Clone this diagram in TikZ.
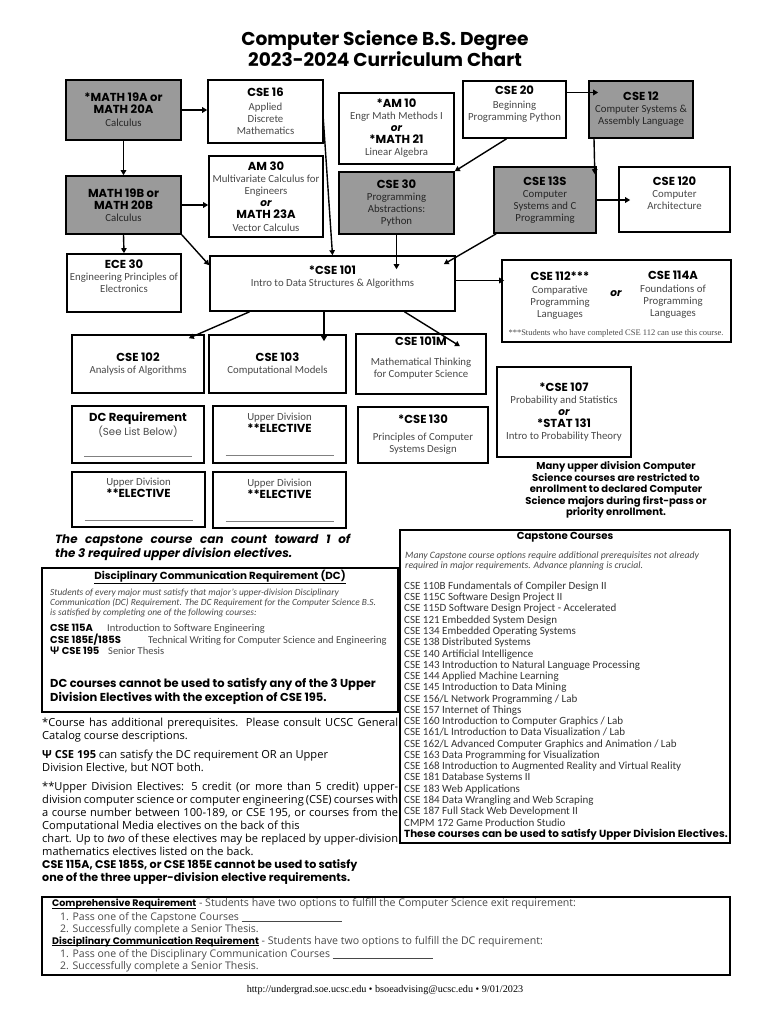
\documentclass[tikz,border=0pt]{standalone}
\usepackage{calc}
\usepackage{fontspec}
\setmainfont{Carlito}
\newfontfamily\hd{Poppins}
\newfontfamily\os{Open Sans}
\newfontfamily\srf{Liberation Serif}
\usetikzlibrary{arrows.meta}
\definecolor{boxgray}{RGB}{154,154,154}
\definecolor{txtgray}{RGB}{72,72,72}
\newcommand\fs[2]{\fontsize{#1}{#2}\selectfont}
\newcommand\ct[1]{{\hd\bfseries\color{black}\fs{11.6}{13}#1}}
\newcommand\ctb[1]{{\hd\bfseries\color{black}\fs{10}{12}#1}}
\newcommand\orr{{\hd\bfseries\itshape\color{black}\fs{10.5}{11}or}}
\newcommand\blank{\textcolor{gray}{\rule{108pt}{0.6pt}}}
\newcommand\jl[2][356pt]{\makebox[#1][s]{#2}}
\newcommand\ul[1]{\rlap{\rule[-1.3pt]{\widthof{#1}}{0.5pt}}#1}

\tikzset{
  intext/.style={align=center, inner sep=0pt, text=txtgray, font=\fs{10.8}{12}},
  box/.style={intext, draw, line width=1.6pt},
  grbox/.style={box, fill=boxgray, text=black!85},
  bigbox/.style={draw, line width=2.2pt, inner sep=0pt},
  ln/.style={anchor=mid west, inner sep=0pt},
  arr/.style={-{Triangle[length=5pt,width=5.5pt]}, line width=1.4pt},
}

\begin{document}
\begin{tikzpicture}[x=1pt, y=-1pt]
\useasboundingbox (0,0) rectangle (770,1024);

% title
\node[font=\hd\bfseries\fs{18.6}{18}, align=center] (title) at (385,49) {Computer Science B.S. Degree\\2023-2024 Curriculum Chart};

% lower division
\node[grbox, minimum width=115pt, minimum height=60pt] (m19a) at (123.5,110) {\ct{*MATH 19A or}\\\ct{MATH 20A}\\[1pt]Calculus};
\node[box, minimum width=115pt, minimum height=63pt] (cse16) at (265.5,111.5) {\ct{CSE 16}\\[2pt]Applied\\Discrete\\Mathematics};
\node[box, minimum width=115pt, minimum height=71pt] (am10) at (396.5,128.5) {\ct{*AM 10}\\Engr Math Methods I\\\orr\\\ct{*MATH 21}\\Linear Algebra};
\node[box, minimum width=103pt, minimum height=57pt] (cse20) at (514.5,109.5) {\ct{CSE 20}\\[2pt]Beginning\\Programming Python\\[1pt]~};
\node[grbox, minimum width=104pt, minimum height=57pt] (cse12) at (641,109.5) {\ct{CSE 12}\\Computer Systems \&\\Assembly Language};
\node[grbox, minimum width=115pt, minimum height=58pt] (m19b) at (123.5,205) {\ct{MATH 19B or}\\\ct{MATH 20B}\\Calculus};
\node[box, minimum width=114pt, minimum height=81pt] (am30) at (266,196.5) {\ct{AM 30}\\Multivariate Calculus for\\Engineers\\\orr\\\ct{MATH 23A}\\[1pt]Vector Calculus};
\node[grbox, minimum width=115pt, minimum height=62pt] (cse30) at (396.5,203) {\ct{CSE 30}\\Programming\\Abstractions:\\Python};
\node[grbox, minimum width=102pt, minimum height=66pt] (cse13s) at (545,200) {\ct{CSE 13S}\\Computer\\Systems and C\\Programming};
\node[box, minimum width=111pt, minimum height=65pt] (cse120) at (674.5,199.5) {\ct{CSE 120}\\Computer\\Architecture\\[1pt]~};
\node[box, minimum width=114pt, minimum height=58pt] (ece30) at (124,283) {\ct{ECE 30}\\Engineering Principles of\\Electronics\\[1pt]~};
\node[box, minimum width=245pt, minimum height=55pt] (cse101) at (332.5,283.5) {\ct{*CSE 101}\\Intro to Data Structures \& Algorithms\\[3pt]~};

% cse 112 or 114a
\node[box, minimum width=229pt, minimum height=82pt] (cse112box) at (616.5,301) {};
\node[intext] (cse112) at (560,295.5) {\ct{CSE 112***}\\[1pt]Comparative\\Programming\\Languages};
\node[intext] (or112) at (616,294) {\orr};
\node[intext] (cse114a) at (673,295) {\ct{CSE 114A}\\[1pt]Foundations of\\Programming\\Languages};
\node[intext, font=\srf\fs{8.5}{9}] (fn112) at (616,333) {***Students who have completed CSE 112 can use this course.};

% upper division
\node[box, minimum width=132pt, minimum height=58pt] (cse102) at (138,364) {\ct{CSE 102}\\Analysis of Algorithms};
\node[box, minimum width=137pt, minimum height=58pt] (cse103) at (277.5,364) {\ct{CSE 103}\\Computational Models};
\node[box, minimum width=130pt, minimum height=60pt,
  label={[anchor=center, yshift=-8pt, inner sep=0pt]north:\ct{CSE 101M}},
  label={[intext, anchor=center, yshift=-35pt]north:Mathematical Thinking\\for Computer Science}] (cse101m) at (421,364) {};
\node[box, minimum width=134pt, minimum height=90pt] (cse107) at (564,412) {\ct{*CSE 107}\\Probability and Statistics\\\orr\\\ct{*STAT 131}\\Intro to Probability Theory};
\node[box, minimum width=132pt, minimum height=57pt] (dcreq) at (138,434.5) {\ct{DC Requirement}\\{\hd\fs{10.2}{11}(See List Below)}\\[9pt]\blank};
\node[box, minimum width=133pt, minimum height=57pt] (elec1) at (279.5,434.5) {Upper Division\\\ct{**ELECTIVE}\\[11pt]\blank};
\node[box, minimum width=130pt, minimum height=56pt] (cse130) at (423,435) {\ct{*CSE 130}\\[5pt]Principles of Computer\\Systems Design};
\node[box, minimum width=133pt, minimum height=55pt] (elec2) at (138.5,499.5) {Upper Division\\\ct{**ELECTIVE}\\[11pt]\blank};
\node[box, minimum width=133pt, minimum height=56pt] (elec3) at (279.5,500) {Upper Division\\\ct{**ELECTIVE}\\[11pt]\blank};
\node[font=\hd\bfseries\fs{10}{11.5}, align=center] (restrict) at (616,490) {Many upper division Computer\\Science courses are restricted to\\enrollment to declared Computer\\Science majors during first-pass or\\priority enrollment.};

% prerequisites
\draw[arr] (m19a.east) -- (m19a.east -| cse16.west);
\draw[arr] (m19a) -- (m19b);
\draw[arr] (m19b.east) -- (m19b.east -| am30.west);
\draw[arr] (m19b.south) -- (ece30.north);
\draw[arr] (m19b.south east) -- ([yshift=-10pt]cse101.north west);
\draw[arr] ([xshift=-1pt]cse16.east) -- (cse101.north);
\draw[arr] (cse30.south) -- ([yshift=-14pt]cse101.north -| cse30.south);
\draw[arr] ([xshift=3pt]cse13s.south west) -- ([xshift=-12pt,yshift=-9pt]cse101.north east);
\draw[arr] ([yshift=17pt]cse20.east) -- ([xshift=10pt,yshift=17pt]cse12.west);
\draw[arr] ([xshift=-8pt]cse20.south) -- (cse30.north east);
\draw[arr] ([xshift=-47pt]cse12.south) -- ([xshift=-2pt,yshift=-8pt]cse13s.north east);
\draw[arr] (cse13s.east) -- ([xshift=12pt]cse13s.east -| cse120.west);
\draw[arr] ([yshift=3pt]cse101.east) -- ([xshift=3pt,yshift=3pt]cse101.east -| cse112box.west);
\draw[arr] ([xshift=-83pt]cse101.south) -- ([xshift=-16pt,yshift=-4pt]cse102.north east);
\draw[arr] ([xshift=-8.5pt]cse101.south) -- ([xshift=46.5pt,yshift=-7pt]cse103.north);
\draw[arr] ([xshift=72pt]cse101.south) -- ([xshift=39pt,yshift=-13pt]cse101m.north);

% capstone note
\node[ln, font=\hd\bfseries\itshape\fs{11.9}{14}] (capnote1) at (55,541) {\jl[295pt]{The capstone course can count toward 1 of}};
\node[ln, font=\hd\bfseries\itshape\fs{11.9}{14}] (capnote2) at (55,555) {the 3 required upper division electives.};

% dc box
\node[bigbox, minimum width=356pt, minimum height=144pt] (dcbox) at (220,640) {};
\node[font=\hd\bfseries\fs{10.3}{11}, inner sep=0pt] (dchead) at (220,577) {\underline{Disciplinary Communication Requirement (DC)}};
\node[anchor=north west, inner sep=0pt, align=left, font=\itshape\fs{9.4}{10}, text=txtgray] (dcintro) at (50,588.5) {Students of every major must satisfy that major's upper-division Disciplinary\\Communication (DC) Requirement. The DC Requirement for the Computer Science B.S.\\is satisfied by completing one of the following courses:};
\node[ln, font=\fs{10.5}{12}, text=txtgray] (dc115a) at (50,629) {\makebox[57pt][l]{\ctb{CSE 115A}}Introduction to Software Engineering};
\node[ln, font=\fs{10.5}{12}, text=txtgray] (dc185) at (50,641) {\makebox[98pt][l]{\ctb{CSE 185E/185S}}Technical Writing for Computer Science and Engineering};
\node[ln, font=\fs{10.5}{12}, text=txtgray] (dc195) at (50,652) {\makebox[58pt][l]{{\os\bfseries\color{black}Ψ} \ctb{CSE 195}}Senior Thesis};
\node[anchor=north west, inner sep=0pt, align=left, font=\hd\bfseries\fs{11.5}{14}] (dcnote) at (50,678.5) {DC courses cannot be used to satisfy any of the 3 Upper\\Division Electives with the exception of CSE 195.};

% footnotes
\node[ln, font=\os\fs{11.1}{12}] (fn1) at (42,724) {\jl{*Course has additional prerequisites. Please consult UCSC General}};
\node[ln, font=\os\fs{11.1}{12}] (fn2) at (42,737) {Catalog course descriptions.};
\node[ln, font=\os\fs{11.1}{12}] (fn3) at (42,756) {{\bfseries Ψ CSE 195} can satisfy the DC requirement OR an Upper};
\node[ln, font=\os\fs{11.1}{12}] (fn4) at (42,769) {Division Elective, but NOT both.};
\node[ln, font=\os\fs{11.1}{12}] (fn5) at (42,788) {\jl{**Upper Division Electives: 5 credit (or more than 5 credit) upper-}};
\node[ln, font=\os\fs{11.1}{12}] (fn6) at (42,801) {\jl{division computer science or computer engineering (CSE) courses with}};
\node[ln, font=\os\fs{11.1}{12}] (fn7) at (42,814) {\jl{a course number between 100-189, or CSE 195, or courses from the}};
\node[ln, font=\os\fs{11.1}{12}] (fn8) at (42,827) {Computational Media electives on the back of this};
\node[ln, font=\os\fs{11.1}{12}] (fn9) at (42,840) {\jl{chart. Up to \textit{two} of these electives may be replaced by upper-division}};
\node[ln, font=\os\fs{11.1}{12}] (fn10) at (42,853) {mathematics electives listed on the back.};
\node[ln, font=\hd\bfseries\fs{11.1}{12}] (fn11) at (42,866) {CSE 115A, CSE 185S, or CSE 185E cannot be used to satisfy};
\node[ln, font=\hd\bfseries\fs{11.1}{12}] (fn12) at (42,879) {one of the three upper-division elective requirements.};

% capstone courses
\node[bigbox, minimum width=330pt, minimum height=313pt] (capbox) at (565,686.5) {};
\node[font=\hd\bfseries\fs{10.2}{10}, inner sep=0pt] (caphead) at (565,537) {Capstone Courses};
\node[anchor=north west, inner sep=0pt, align=left, font=\itshape\fs{9.75}{10}, text=txtgray] (capintro) at (405,551.5) {Many Capstone course options require additional prerequisites not already\\required in major requirements. Advance planning is crucial.};
\foreach \c [count=\i] in {CSE 110B Fundamentals of Compiler Design II, CSE 115C Software Design Project II,
  CSE 115D Software Design Project - Accelerated, CSE 121 Embedded System Design,
  CSE 134 Embedded Operating Systems, CSE 138 Distributed Systems, CSE 140 Artificial Intelligence,
  CSE 143 Introduction to Natural Language Processing, CSE 144 Applied Machine Learning,
  CSE 145 Introduction to Data Mining, CSE 156/L Network Programming / Lab, CSE 157 Internet of Things,
  CSE 160 Introduction to Computer Graphics / Lab, CSE 161/L Introduction to Data Visualization / Lab,
  CSE 162/L Advanced Computer Graphics and Animation / Lab, CSE 163 Data Programming for Visualization,
  CSE 168 Introduction to Augmented Reality and Virtual Reality, CSE 181 Database Systems II,
  CSE 183 Web Applications, CSE 184 Data Wrangling and Web Scraping, CSE 187 Full Stack Web Development II,
  CMPM 172 Game Production Studio}
  \node[ln, font=\fs{11}{12}, text=black!80] (cap\i) at (404,{587+11.27*(\i-1)}) {\c};
\node[ln, font=\hd\bfseries\fs{10.3}{10}] (capuse) at (404,835) {These courses can be used to satisfy Upper Division Electives.};

% exit requirements
\node[bigbox, minimum width=688pt, minimum height=78pt] (reqbox) at (386,936) {};
\node[ln, font=\os\fs{10.6}{12}, text=txtgray] (req1) at (52,904.5) {{\hd\bfseries\fs{9.5}{12}\color{black}\ul{Comprehensive Requirement}} - Students have two options to fulfill the Computer Science exit requirement:};
\node[ln, font=\os\fs{10.5}{12}, text=txtgray] (req2) at (60,918) {1. Pass one of the Capstone Courses \rule[-1pt]{100pt}{0.5pt}};
\node[ln, font=\os\fs{10.5}{12}, text=txtgray] (req3) at (60,930) {2. Successfully complete a Senior Thesis.};
\node[ln, font=\os\fs{10.6}{12}, text=txtgray] (req4) at (52,942) {{\hd\bfseries\fs{9.5}{12}\color{black}\ul{Disciplinary Communication Requirement}} - Students have two options to fulfill the DC requirement:};
\node[ln, font=\os\fs{10.5}{12}, text=txtgray] (req5) at (60,955.5) {1. Pass one of the Disciplinary Communication Courses \rule[-1pt]{100pt}{0.5pt}};
\node[ln, font=\os\fs{10.5}{12}, text=txtgray] (req6) at (60,967.5) {2. Successfully complete a Senior Thesis.};

\node[font=\srf\fs{10.2}{10}, inner sep=0pt] (footer) at (385,990) {http://undergrad.soe.ucsc.edu • bsoeadvising@ucsc.edu • 9/01/2023};
\end{tikzpicture}
\end{document}
